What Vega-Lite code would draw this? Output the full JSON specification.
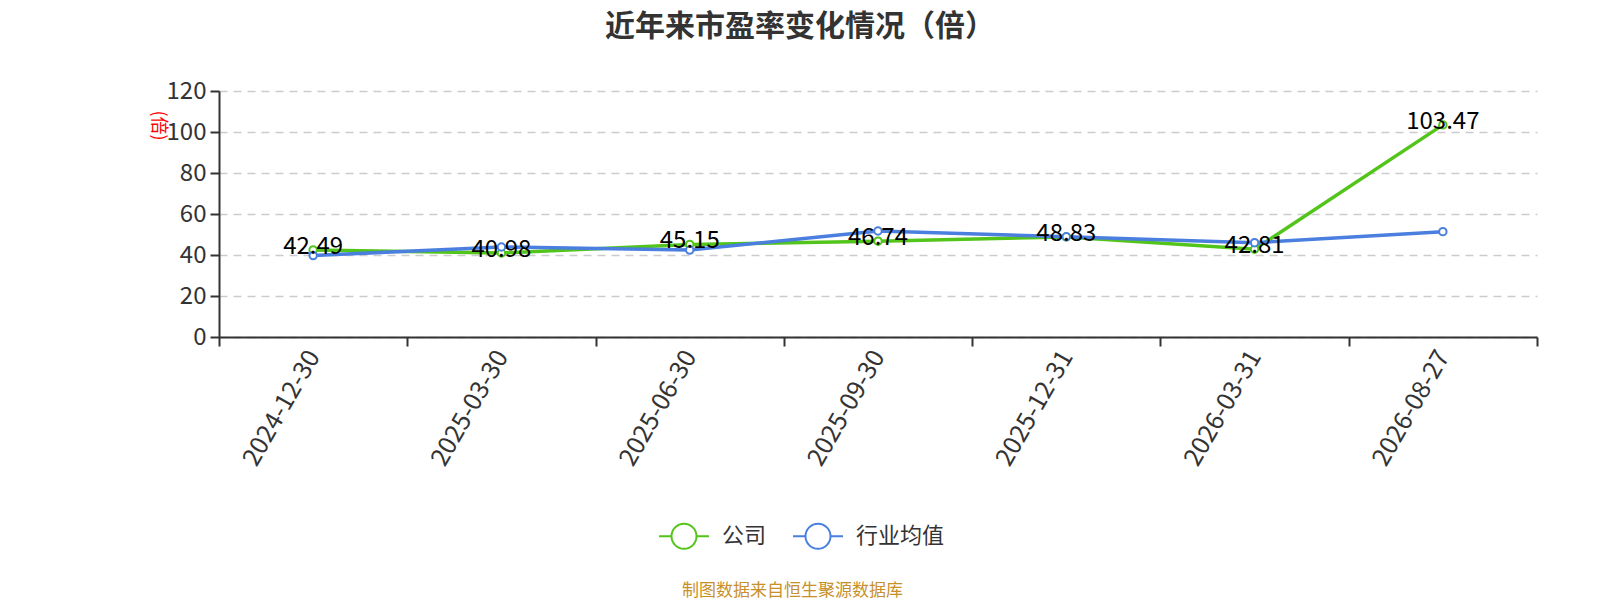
{
  "$schema": "https://vega.github.io/schema/vega-lite/v6.json",
  "width": 1318,
  "height": 246,
  "autosize": {"type": "none"},
  "padding": {"left": 219, "top": 91, "right": 63, "bottom": 263},
  "background": "white",
  "config": {
    "font": "Noto Sans CJK SC",
    "view": {"stroke": null}
  },
  "title": {
    "text": "近年来市盈率变化情况（倍）",
    "fontSize": 30,
    "fontWeight": "bold",
    "color": "#333333",
    "font": "Noto Sans CJK SC",
    "anchor": "middle",
    "dx": -78,
    "offset": 37
  },
  "data": {
    "values": [
      {"date": "2024-12-30", "series": "公司", "value": 42.49},
      {"date": "2025-03-30", "series": "公司", "value": 40.98},
      {"date": "2025-06-30", "series": "公司", "value": 45.15},
      {"date": "2025-09-30", "series": "公司", "value": 46.74},
      {"date": "2025-12-31", "series": "公司", "value": 48.83},
      {"date": "2026-03-31", "series": "公司", "value": 42.81},
      {"date": "2026-08-27", "series": "公司", "value": 103.47},
      {"date": "2024-12-30", "series": "行业均值", "value": 39.7},
      {"date": "2025-03-30", "series": "行业均值", "value": 43.9},
      {"date": "2025-06-30", "series": "行业均值", "value": 42.4},
      {"date": "2025-09-30", "series": "行业均值", "value": 51.7},
      {"date": "2025-12-31", "series": "行业均值", "value": 48.9},
      {"date": "2026-03-31", "series": "行业均值", "value": 46.0},
      {"date": "2026-08-27", "series": "行业均值", "value": 51.4}
    ]
  },
  "encoding": {
    "x": {
      "field": "date",
      "type": "ordinal",
      "scale": {"type": "band", "paddingInner": 0, "paddingOuter": 0},
      "axis": {
        "tickBand": "extent",
        "labelAngle": -60,
        "labelAlign": "right",
        "labelBaseline": "middle",
        "labelFontSize": 25,
        "labelColor": "#333333",
        "labelPadding": 6,
        "domainColor": "#333333",
        "domainWidth": 2,
        "tickColor": "#333333",
        "tickWidth": 2,
        "tickSize": 9,
        "grid": false,
        "title": "制图数据来自恒生聚源数据库",
        "titleColor": "#c8902a",
        "titleFontSize": 17,
        "titleFontWeight": "normal",
        "titleX": 573,
        "titleY": 253,
        "titleBaseline": "middle"
      }
    },
    "y": {
      "field": "value",
      "type": "quantitative",
      "scale": {"domain": [0, 120], "nice": false},
      "axis": {
        "values": [0, 20, 40, 60, 80, 100, 120],
        "labelFontSize": 24,
        "labelColor": "#333333",
        "labelPadding": 4,
        "domainColor": "#333333",
        "domainWidth": 2,
        "tickColor": "#333333",
        "tickWidth": 2,
        "tickSize": 9,
        "grid": true,
        "gridColor": "#cccccc",
        "gridDash": [8, 6],
        "gridWidth": 1.5,
        "title": "(倍)",
        "titleColor": "#ff0000",
        "titleFontSize": 18,
        "titleFontWeight": "normal",
        "titleAngle": 90,
        "titleX": -62,
        "titleY": 34,
        "titleAlign": "center",
        "titleBaseline": "middle"
      }
    }
  },
  "layer": [
    {
      "mark": {"type": "line", "strokeWidth": 3.5},
      "encoding": {
        "color": {
          "field": "series",
          "type": "nominal",
          "scale": {"domain": ["公司", "行业均值"], "range": ["#52c41a", "#4a7fe0"]},
          "legend": {
            "title": null,
            "orient": "none",
            "direction": "horizontal",
            "legendX": 439,
            "legendY": 419,
            "symbolType": "M-1,0H-0.5M0.5,0H1M0.5,0A0.5,0.5,0,1,1,-0.5,0A0.5,0.5,0,1,1,0.5,0Z",
            "symbolSize": 2500,
            "symbolStrokeWidth": 2,
            "symbolFillColor": "white",
            "symbolOpacity": 1,
            "labelFontSize": 22,
            "labelColor": "#333333",
            "labelOffset": 12,
            "columnPadding": 22,
            "labelLimit": 200
          }
        }
      }
    },
    {
      "mark": {"type": "point", "filled": false, "fill": "white", "fillOpacity": 1, "opacity": 1, "size": 55, "strokeWidth": 2},
      "encoding": {
        "color": {"field": "series", "type": "nominal", "legend": null}
      }
    },
    {
      "transform": [{"filter": "datum.series === '公司'"}],
      "mark": {"type": "text", "fontSize": 24, "color": "#000000", "baseline": "middle", "align": "center", "dy": -3},
      "encoding": {
        "text": {"field": "value", "type": "quantitative", "format": ".2f"}
      }
    }
  ]
}
